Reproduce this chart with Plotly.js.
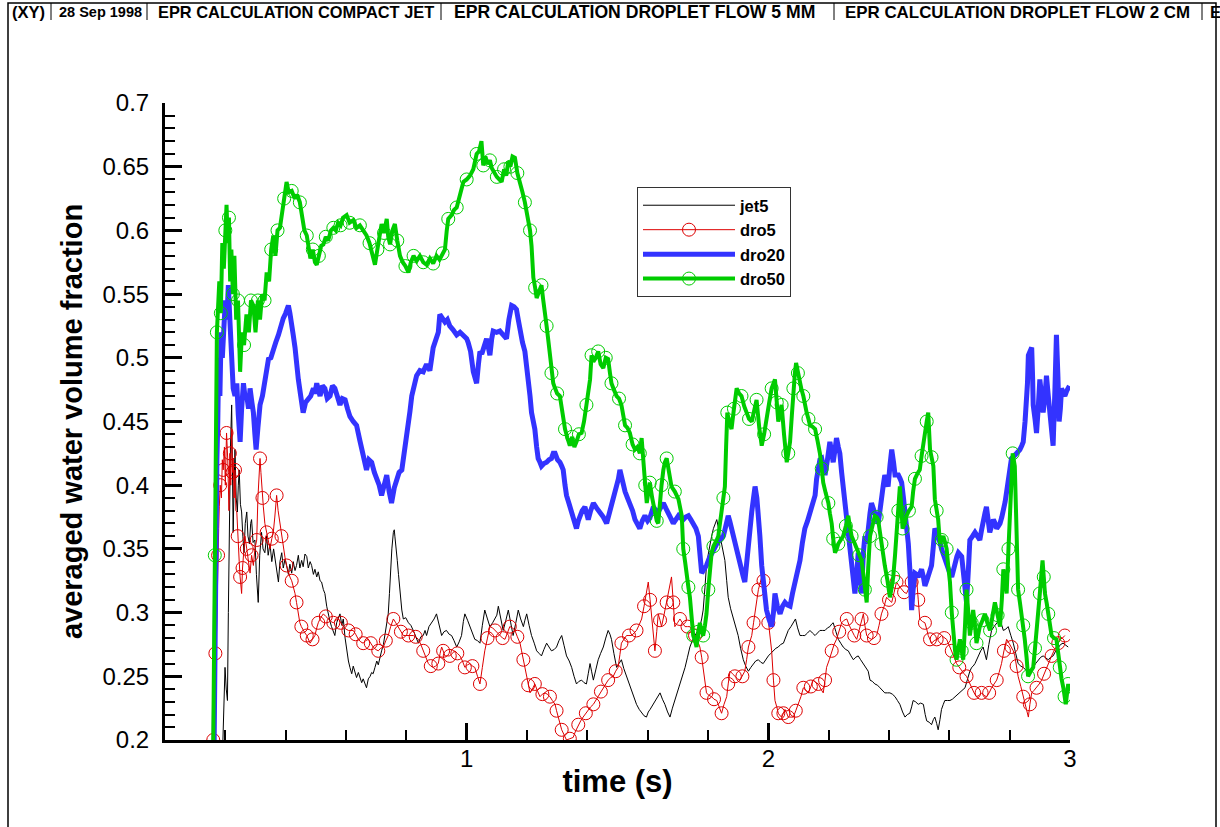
<!DOCTYPE html>
<html>
<head>
<meta charset="utf-8">
<script src="https://cdn.plot.ly/plotly-3.0.1.min.js"></script>
<style>
  html, body { margin: 0; padding: 0; background: #fff; }
  #chart { width: 1220px; height: 827px; }
</style>
</head>
<body>
<div id="chart"></div>
<script>
// ---- averaged water volume fraction vs time, four EPR calculations ----

const jet5_t = [0.192,0.196,0.199,0.203,0.207,0.210,0.213,0.217,0.221,0.224,0.226,0.229,0.232,0.236,0.240,0.243,0.246,0.250,0.254,0.258,0.262,0.266,0.271,0.275,0.280,0.284,0.287,0.292,0.298,0.303,0.309,0.314,0.320,0.325,0.331,0.337,0.342,0.348,0.354,0.360,0.365,0.370,0.376,0.381,0.387,0.392,0.398,0.403,0.409,0.414,0.420,0.425,0.431,0.436,0.442,0.447,0.453,0.458,0.464,0.470,0.475,0.481,0.486,0.492,0.497,0.503,0.508,0.514,0.519,0.525,0.530,0.536,0.541,0.547,0.552,0.558,0.563,0.569,0.575,0.580,0.586,0.591,0.597,0.602,0.608,0.613,0.619,0.624,0.630,0.635,0.641,0.646,0.652,0.657,0.663,0.668,0.674,0.680,0.685,0.690,0.696,0.702,0.707,0.713,0.718,0.724,0.729,0.735,0.740,0.744,0.748,0.752,0.757,0.760,0.762,0.766,0.770,0.774,0.779,0.785,0.790,0.798,0.807,0.815,0.823,0.832,0.840,0.848,0.856,0.862,0.867,0.875,0.884,0.892,0.900,0.908,0.917,0.925,0.933,0.942,0.950,0.958,0.967,0.975,0.983,0.989,0.994,1.003,1.011,1.019,1.027,1.036,1.044,1.052,1.060,1.069,1.077,1.086,1.094,1.100,1.105,1.113,1.121,1.130,1.138,1.146,1.154,1.163,1.171,1.179,1.188,1.193,1.199,1.207,1.215,1.224,1.232,1.240,1.248,1.256,1.265,1.273,1.281,1.290,1.298,1.306,1.315,1.323,1.331,1.340,1.348,1.356,1.364,1.372,1.381,1.389,1.397,1.403,1.409,1.414,1.420,1.428,1.436,1.444,1.453,1.461,1.469,1.475,1.480,1.488,1.497,1.505,1.513,1.521,1.530,1.538,1.547,1.555,1.563,1.572,1.580,1.588,1.596,1.602,1.608,1.616,1.624,1.632,1.641,1.649,1.657,1.666,1.674,1.682,1.690,1.699,1.707,1.715,1.724,1.732,1.740,1.748,1.757,1.765,1.773,1.779,1.784,1.790,1.795,1.801,1.806,1.812,1.818,1.823,1.829,1.835,1.840,1.848,1.856,1.862,1.867,1.875,1.884,1.892,1.900,1.908,1.917,1.925,1.934,1.942,1.950,1.958,1.967,1.975,1.983,1.991,2.000,2.008,2.016,2.025,2.033,2.041,2.050,2.058,2.066,2.075,2.083,2.090,2.097,2.105,2.113,2.121,2.130,2.138,2.146,2.155,2.163,2.171,2.180,2.188,2.196,2.204,2.210,2.215,2.224,2.232,2.240,2.248,2.257,2.265,2.274,2.282,2.290,2.298,2.306,2.315,2.323,2.331,2.337,2.345,2.353,2.362,2.370,2.378,2.386,2.395,2.403,2.411,2.420,2.428,2.436,2.445,2.453,2.461,2.469,2.475,2.480,2.488,2.497,2.505,2.514,2.520,2.525,2.533,2.541,2.547,2.552,2.558,2.563,2.569,2.574,2.580,2.585,2.594,2.602,2.610,2.619,2.627,2.635,2.644,2.652,2.657,2.663,2.668,2.674,2.679,2.685,2.690,2.696,2.704,2.712,2.718,2.723,2.731,2.740,2.748,2.757,2.762,2.768,2.774,2.779,2.787,2.795,2.804,2.812,2.820,2.828,2.837,2.845,2.853,2.862,2.870,2.878,2.886,2.895,2.903,2.911,2.920,2.928,2.936,2.944,2.953,2.961,2.969,2.977,2.986,2.994];
const jet5_v = [0.200,0.235,0.257,0.240,0.231,0.300,0.379,0.430,0.463,0.400,0.363,0.400,0.428,0.390,0.379,0.400,0.412,0.385,0.379,0.360,0.347,0.370,0.379,0.360,0.354,0.370,0.373,0.355,0.357,0.330,0.308,0.345,0.363,0.350,0.347,0.360,0.345,0.354,0.340,0.350,0.341,0.335,0.324,0.340,0.347,0.335,0.342,0.337,0.330,0.338,0.331,0.340,0.333,0.337,0.345,0.335,0.341,0.336,0.346,0.344,0.335,0.340,0.337,0.330,0.334,0.328,0.332,0.325,0.324,0.318,0.315,0.305,0.299,0.293,0.289,0.285,0.282,0.292,0.296,0.299,0.290,0.295,0.280,0.270,0.262,0.257,0.252,0.258,0.254,0.249,0.253,0.250,0.245,0.248,0.244,0.241,0.248,0.250,0.253,0.252,0.257,0.262,0.259,0.266,0.270,0.275,0.282,0.290,0.299,0.315,0.334,0.350,0.363,0.365,0.360,0.352,0.341,0.330,0.315,0.302,0.295,0.296,0.292,0.290,0.286,0.280,0.276,0.281,0.282,0.286,0.282,0.289,0.292,0.295,0.299,0.290,0.282,0.285,0.286,0.283,0.282,0.278,0.273,0.277,0.282,0.293,0.299,0.294,0.289,0.284,0.279,0.278,0.276,0.290,0.302,0.295,0.289,0.292,0.295,0.298,0.305,0.295,0.286,0.294,0.302,0.292,0.282,0.292,0.302,0.295,0.289,0.294,0.299,0.290,0.282,0.276,0.270,0.268,0.266,0.271,0.276,0.273,0.270,0.271,0.273,0.278,0.282,0.274,0.266,0.262,0.257,0.250,0.244,0.246,0.247,0.245,0.244,0.252,0.260,0.254,0.247,0.255,0.263,0.268,0.273,0.280,0.286,0.283,0.279,0.268,0.257,0.260,0.263,0.256,0.250,0.244,0.238,0.232,0.228,0.224,0.221,0.219,0.218,0.222,0.224,0.227,0.231,0.234,0.237,0.232,0.228,0.222,0.218,0.225,0.231,0.238,0.244,0.250,0.257,0.265,0.273,0.278,0.282,0.285,0.289,0.295,0.302,0.320,0.337,0.346,0.354,0.360,0.366,0.370,0.373,0.366,0.360,0.350,0.341,0.325,0.312,0.303,0.295,0.288,0.282,0.272,0.263,0.258,0.254,0.257,0.260,0.262,0.263,0.261,0.260,0.263,0.266,0.268,0.270,0.272,0.273,0.275,0.276,0.281,0.286,0.289,0.292,0.295,0.288,0.282,0.282,0.282,0.284,0.286,0.284,0.282,0.284,0.286,0.286,0.286,0.288,0.289,0.291,0.292,0.285,0.279,0.276,0.273,0.271,0.270,0.266,0.263,0.265,0.266,0.263,0.260,0.257,0.254,0.247,0.246,0.244,0.243,0.241,0.239,0.237,0.237,0.237,0.236,0.234,0.231,0.228,0.222,0.218,0.220,0.221,0.226,0.231,0.230,0.228,0.229,0.228,0.220,0.215,0.214,0.212,0.216,0.218,0.213,0.208,0.216,0.224,0.228,0.231,0.231,0.231,0.232,0.234,0.236,0.237,0.239,0.241,0.245,0.250,0.254,0.257,0.258,0.260,0.263,0.266,0.270,0.273,0.268,0.263,0.275,0.286,0.289,0.292,0.294,0.295,0.290,0.286,0.287,0.289,0.282,0.276,0.268,0.260,0.258,0.257,0.255,0.254,0.255,0.257,0.260,0.263,0.265,0.266,0.264,0.263,0.265,0.266,0.270,0.273,0.275,0.276,0.274,0.273];

const dro5_t = [0.160,0.163,0.165,0.167,0.170,0.173,0.176,0.178,0.180,0.183,0.187,0.190,0.193,0.197,0.200,0.204,0.208,0.212,0.215,0.218,0.221,0.224,0.226,0.229,0.232,0.235,0.238,0.241,0.243,0.246,0.249,0.252,0.254,0.257,0.260,0.265,0.271,0.276,0.282,0.287,0.293,0.298,0.304,0.308,0.312,0.315,0.318,0.320,0.323,0.326,0.331,0.337,0.343,0.348,0.354,0.359,0.364,0.370,0.375,0.381,0.386,0.392,0.398,0.403,0.409,0.414,0.420,0.425,0.431,0.436,0.441,0.447,0.452,0.458,0.464,0.470,0.475,0.481,0.489,0.497,0.503,0.508,0.516,0.525,0.533,0.541,0.550,0.558,0.566,0.575,0.583,0.591,0.600,0.608,0.616,0.624,0.632,0.641,0.649,0.657,0.665,0.674,0.682,0.690,0.699,0.707,0.715,0.724,0.732,0.740,0.748,0.757,0.765,0.773,0.782,0.790,0.798,0.807,0.815,0.823,0.831,0.840,0.848,0.856,0.864,0.873,0.881,0.889,0.897,0.906,0.912,0.917,0.922,0.928,0.936,0.944,0.952,0.961,0.969,0.978,0.986,0.994,1.003,1.011,1.019,1.027,1.036,1.044,1.052,1.060,1.069,1.077,1.086,1.094,1.102,1.110,1.119,1.127,1.135,1.143,1.152,1.160,1.168,1.177,1.182,1.188,1.193,1.199,1.204,1.210,1.218,1.226,1.234,1.243,1.251,1.259,1.267,1.276,1.284,1.293,1.298,1.304,1.310,1.315,1.323,1.331,1.342,1.353,1.361,1.370,1.378,1.386,1.395,1.403,1.411,1.420,1.428,1.436,1.445,1.453,1.461,1.469,1.478,1.486,1.494,1.502,1.508,1.513,1.521,1.530,1.538,1.547,1.555,1.563,1.571,1.580,1.588,1.596,1.602,1.608,1.613,1.619,1.624,1.630,1.635,1.641,1.646,1.654,1.663,1.671,1.679,1.685,1.690,1.699,1.707,1.715,1.724,1.732,1.740,1.748,1.757,1.765,1.773,1.779,1.784,1.790,1.795,1.803,1.812,1.820,1.829,1.837,1.845,1.853,1.862,1.867,1.873,1.881,1.889,1.898,1.906,1.914,1.922,1.928,1.934,1.940,1.945,1.951,1.956,1.962,1.967,1.972,1.978,1.984,1.989,1.994,2.000,2.006,2.011,2.017,2.022,2.028,2.033,2.039,2.044,2.050,2.055,2.061,2.066,2.075,2.083,2.091,2.099,2.108,2.116,2.124,2.133,2.141,2.149,2.158,2.166,2.174,2.182,2.188,2.193,2.202,2.210,2.218,2.226,2.235,2.243,2.251,2.260,2.268,2.276,2.285,2.293,2.301,2.309,2.315,2.320,2.326,2.334,2.342,2.350,2.359,2.367,2.375,2.384,2.392,2.400,2.409,2.417,2.425,2.433,2.442,2.450,2.458,2.466,2.475,2.483,2.491,2.497,2.502,2.511,2.519,2.525,2.530,2.536,2.541,2.550,2.558,2.566,2.574,2.583,2.591,2.600,2.608,2.616,2.624,2.633,2.641,2.649,2.657,2.666,2.674,2.682,2.690,2.699,2.707,2.715,2.723,2.732,2.740,2.748,2.757,2.765,2.773,2.781,2.790,2.798,2.806,2.812,2.817,2.823,2.828,2.837,2.845,2.853,2.862,2.867,2.873,2.881,2.889,2.898,2.906,2.914,2.922,2.930,2.939,2.947,2.955,2.961,2.966,2.975,2.983];
const dro5_v = [0.200,0.231,0.250,0.268,0.275,0.320,0.345,0.366,0.383,0.400,0.390,0.420,0.412,0.430,0.400,0.441,0.420,0.380,0.425,0.400,0.444,0.410,0.421,0.390,0.412,0.380,0.379,0.360,0.354,0.340,0.328,0.320,0.315,0.335,0.344,0.360,0.350,0.340,0.331,0.345,0.337,0.350,0.357,0.390,0.410,0.421,0.410,0.402,0.390,0.383,0.370,0.363,0.355,0.350,0.358,0.363,0.375,0.392,0.380,0.370,0.360,0.350,0.343,0.337,0.332,0.328,0.325,0.321,0.315,0.308,0.300,0.292,0.289,0.286,0.284,0.282,0.279,0.276,0.279,0.282,0.288,0.292,0.296,0.299,0.297,0.295,0.293,0.292,0.294,0.295,0.292,0.289,0.287,0.286,0.286,0.286,0.283,0.279,0.277,0.276,0.278,0.279,0.276,0.273,0.271,0.270,0.272,0.273,0.278,0.282,0.289,0.295,0.292,0.289,0.285,0.282,0.282,0.282,0.282,0.282,0.281,0.279,0.275,0.270,0.264,0.260,0.258,0.257,0.258,0.260,0.268,0.273,0.270,0.266,0.266,0.266,0.268,0.270,0.268,0.266,0.262,0.257,0.259,0.260,0.258,0.257,0.250,0.244,0.257,0.270,0.280,0.289,0.288,0.286,0.284,0.282,0.280,0.279,0.284,0.289,0.288,0.286,0.281,0.276,0.270,0.263,0.256,0.250,0.243,0.237,0.240,0.244,0.239,0.234,0.236,0.237,0.236,0.234,0.231,0.228,0.223,0.218,0.213,0.208,0.204,0.200,0.201,0.202,0.207,0.212,0.215,0.218,0.221,0.224,0.226,0.228,0.231,0.234,0.238,0.241,0.244,0.247,0.249,0.250,0.254,0.257,0.267,0.276,0.279,0.282,0.282,0.282,0.284,0.286,0.290,0.295,0.305,0.315,0.324,0.310,0.299,0.285,0.270,0.285,0.299,0.294,0.289,0.298,0.308,0.318,0.328,0.308,0.289,0.292,0.295,0.292,0.289,0.289,0.289,0.285,0.282,0.278,0.273,0.265,0.257,0.247,0.237,0.235,0.234,0.232,0.231,0.226,0.221,0.228,0.234,0.244,0.254,0.252,0.250,0.248,0.247,0.250,0.254,0.263,0.273,0.278,0.282,0.292,0.302,0.310,0.318,0.323,0.328,0.325,0.321,0.306,0.292,0.280,0.270,0.247,0.231,0.226,0.221,0.219,0.218,0.221,0.224,0.221,0.218,0.218,0.218,0.223,0.228,0.234,0.241,0.239,0.237,0.242,0.247,0.245,0.244,0.240,0.237,0.247,0.257,0.263,0.270,0.275,0.279,0.285,0.292,0.294,0.295,0.290,0.286,0.282,0.279,0.287,0.295,0.299,0.290,0.282,0.280,0.279,0.280,0.282,0.290,0.299,0.305,0.312,0.310,0.308,0.316,0.324,0.321,0.318,0.316,0.315,0.320,0.324,0.326,0.328,0.310,0.295,0.293,0.292,0.287,0.282,0.279,0.276,0.278,0.279,0.280,0.282,0.280,0.279,0.274,0.270,0.265,0.260,0.257,0.254,0.252,0.250,0.245,0.241,0.237,0.234,0.235,0.237,0.235,0.234,0.237,0.241,0.244,0.247,0.253,0.260,0.270,0.279,0.276,0.273,0.270,0.266,0.258,0.250,0.242,0.234,0.226,0.218,0.228,0.237,0.239,0.241,0.244,0.247,0.252,0.257,0.262,0.266,0.270,0.273,0.276,0.279,0.280,0.282];

const dro20_t = [0.163,0.166,0.169,0.172,0.175,0.178,0.182,0.186,0.190,0.195,0.200,0.205,0.210,0.215,0.221,0.226,0.232,0.238,0.243,0.249,0.254,0.260,0.266,0.271,0.277,0.282,0.288,0.293,0.298,0.302,0.308,0.315,0.323,0.331,0.337,0.343,0.351,0.359,0.367,0.376,0.384,0.392,0.400,0.409,0.414,0.420,0.425,0.431,0.436,0.442,0.450,0.458,0.466,0.475,0.483,0.492,0.497,0.503,0.509,0.514,0.522,0.530,0.538,0.547,0.555,0.563,0.571,0.580,0.588,0.597,0.605,0.613,0.624,0.635,0.646,0.657,0.663,0.668,0.676,0.685,0.694,0.702,0.710,0.718,0.726,0.735,0.743,0.751,0.760,0.768,0.776,0.785,0.790,0.796,0.801,0.807,0.812,0.818,0.826,0.834,0.845,0.856,0.867,0.878,0.889,0.900,0.906,0.911,0.920,0.928,0.936,0.944,0.955,0.967,0.978,0.989,1.000,1.005,1.013,1.022,1.028,1.033,1.039,1.044,1.050,1.055,1.060,1.066,1.072,1.077,1.083,1.088,1.099,1.110,1.121,1.132,1.140,1.149,1.157,1.165,1.171,1.177,1.185,1.193,1.199,1.204,1.210,1.215,1.221,1.226,1.232,1.237,1.243,1.248,1.256,1.265,1.273,1.281,1.287,1.293,1.301,1.309,1.315,1.320,1.326,1.331,1.340,1.348,1.356,1.364,1.370,1.375,1.383,1.392,1.398,1.403,1.411,1.420,1.431,1.442,1.453,1.464,1.472,1.480,1.488,1.497,1.503,1.508,1.516,1.525,1.533,1.541,1.550,1.558,1.566,1.574,1.582,1.591,1.600,1.607,1.619,1.627,1.635,1.644,1.652,1.660,1.668,1.677,1.685,1.693,1.702,1.710,1.718,1.726,1.735,1.743,1.751,1.760,1.768,1.774,1.779,1.787,1.795,1.803,1.812,1.820,1.829,1.840,1.851,1.859,1.867,1.872,1.878,1.886,1.895,1.903,1.911,1.917,1.922,1.928,1.934,1.940,1.945,1.951,1.956,1.962,1.967,1.972,1.978,1.986,1.994,2.002,2.011,2.017,2.022,2.030,2.039,2.047,2.055,2.063,2.072,2.080,2.088,2.097,2.105,2.113,2.121,2.130,2.138,2.146,2.155,2.160,2.166,2.171,2.177,2.182,2.188,2.196,2.204,2.210,2.215,2.221,2.226,2.232,2.237,2.243,2.248,2.254,2.260,2.265,2.270,2.278,2.287,2.293,2.298,2.304,2.309,2.315,2.320,2.326,2.331,2.337,2.342,2.348,2.353,2.359,2.364,2.370,2.375,2.381,2.386,2.392,2.397,2.403,2.409,2.415,2.420,2.426,2.431,2.437,2.442,2.448,2.453,2.459,2.464,2.470,2.475,2.480,2.486,2.492,2.497,2.503,2.508,2.514,2.519,2.525,2.530,2.536,2.541,2.547,2.552,2.558,2.563,2.569,2.574,2.583,2.591,2.600,2.608,2.614,2.619,2.625,2.630,2.636,2.641,2.649,2.657,2.663,2.668,2.677,2.685,2.693,2.701,2.707,2.712,2.718,2.723,2.729,2.734,2.740,2.746,2.752,2.757,2.763,2.768,2.774,2.779,2.785,2.790,2.798,2.806,2.815,2.823,2.829,2.834,2.840,2.845,2.851,2.856,2.859,2.862,2.868,2.873,2.876,2.878,2.884,2.889,2.895,2.900,2.906,2.911,2.917,2.922,2.928,2.933,2.939,2.944,2.950,2.955,2.960,2.964,2.968,2.972,2.978,2.983,2.989,2.994,2.998];
const dro20_v = [0.200,0.300,0.360,0.420,0.450,0.500,0.470,0.520,0.500,0.530,0.545,0.530,0.557,0.530,0.508,0.476,0.470,0.480,0.455,0.434,0.460,0.480,0.468,0.470,0.460,0.476,0.465,0.457,0.440,0.428,0.445,0.463,0.470,0.483,0.490,0.499,0.500,0.508,0.512,0.518,0.525,0.531,0.535,0.541,0.535,0.528,0.518,0.508,0.495,0.483,0.470,0.457,0.465,0.467,0.470,0.476,0.472,0.480,0.472,0.470,0.478,0.476,0.468,0.470,0.478,0.476,0.470,0.463,0.468,0.467,0.460,0.454,0.450,0.447,0.435,0.425,0.418,0.412,0.420,0.418,0.410,0.405,0.400,0.392,0.400,0.408,0.395,0.386,0.398,0.405,0.410,0.412,0.420,0.428,0.435,0.444,0.458,0.470,0.478,0.486,0.490,0.489,0.495,0.490,0.508,0.515,0.520,0.534,0.530,0.528,0.530,0.525,0.522,0.518,0.520,0.518,0.515,0.512,0.505,0.489,0.485,0.480,0.495,0.505,0.503,0.508,0.510,0.515,0.508,0.502,0.515,0.521,0.520,0.521,0.518,0.515,0.530,0.541,0.540,0.538,0.530,0.521,0.512,0.505,0.495,0.483,0.470,0.457,0.450,0.444,0.430,0.421,0.418,0.415,0.417,0.418,0.420,0.421,0.425,0.425,0.420,0.418,0.415,0.412,0.400,0.392,0.385,0.379,0.372,0.366,0.372,0.376,0.380,0.383,0.378,0.373,0.380,0.386,0.382,0.379,0.375,0.370,0.377,0.383,0.390,0.399,0.405,0.412,0.402,0.395,0.390,0.386,0.380,0.373,0.370,0.366,0.372,0.376,0.372,0.374,0.383,0.380,0.379,0.382,0.386,0.382,0.379,0.374,0.370,0.373,0.376,0.374,0.373,0.375,0.376,0.373,0.370,0.366,0.360,0.345,0.331,0.334,0.337,0.342,0.347,0.350,0.354,0.357,0.360,0.368,0.376,0.372,0.366,0.355,0.347,0.338,0.331,0.328,0.324,0.340,0.354,0.367,0.379,0.390,0.399,0.390,0.379,0.360,0.337,0.318,0.302,0.295,0.289,0.300,0.315,0.305,0.299,0.305,0.308,0.306,0.305,0.315,0.324,0.332,0.341,0.355,0.366,0.372,0.379,0.386,0.392,0.405,0.418,0.420,0.421,0.414,0.408,0.420,0.434,0.426,0.418,0.428,0.437,0.430,0.425,0.410,0.399,0.388,0.376,0.362,0.350,0.330,0.315,0.330,0.347,0.330,0.315,0.347,0.360,0.354,0.370,0.378,0.386,0.382,0.379,0.375,0.370,0.380,0.392,0.400,0.408,0.404,0.399,0.415,0.428,0.418,0.408,0.408,0.408,0.405,0.402,0.390,0.379,0.367,0.354,0.330,0.302,0.318,0.331,0.330,0.328,0.331,0.334,0.328,0.321,0.325,0.328,0.332,0.337,0.352,0.366,0.363,0.360,0.355,0.350,0.343,0.337,0.332,0.328,0.335,0.341,0.344,0.347,0.346,0.344,0.326,0.308,0.333,0.357,0.360,0.363,0.360,0.357,0.365,0.373,0.378,0.383,0.373,0.363,0.368,0.373,0.370,0.366,0.368,0.370,0.375,0.379,0.387,0.395,0.408,0.421,0.423,0.425,0.427,0.428,0.431,0.434,0.450,0.463,0.480,0.502,0.505,0.508,0.485,0.463,0.452,0.441,0.462,0.483,0.470,0.457,0.470,0.486,0.470,0.457,0.444,0.431,0.475,0.518,0.485,0.450,0.460,0.476,0.472,0.470,0.474,0.476,0.478];

const dro50_t = [0.160,0.163,0.165,0.167,0.169,0.172,0.176,0.180,0.185,0.190,0.195,0.200,0.204,0.208,0.212,0.216,0.220,0.225,0.230,0.236,0.242,0.249,0.255,0.262,0.270,0.278,0.285,0.293,0.300,0.308,0.315,0.322,0.330,0.337,0.345,0.352,0.359,0.366,0.373,0.381,0.388,0.395,0.403,0.410,0.420,0.430,0.438,0.447,0.455,0.462,0.470,0.476,0.482,0.490,0.497,0.503,0.510,0.518,0.525,0.533,0.541,0.550,0.558,0.566,0.574,0.582,0.590,0.602,0.612,0.624,0.635,0.646,0.657,0.668,0.678,0.688,0.696,0.704,0.712,0.718,0.726,0.735,0.740,0.746,0.754,0.762,0.770,0.779,0.788,0.797,0.807,0.815,0.824,0.834,0.845,0.856,0.867,0.878,0.889,0.900,0.910,0.920,0.928,0.934,0.939,0.950,0.958,0.967,0.978,0.989,1.000,1.011,1.022,1.033,1.041,1.049,1.055,1.062,1.070,1.077,1.083,1.092,1.100,1.108,1.116,1.124,1.131,1.138,1.145,1.152,1.160,1.168,1.177,1.185,1.193,1.200,1.205,1.210,1.215,1.221,1.227,1.232,1.240,1.248,1.254,1.259,1.265,1.270,1.276,1.281,1.287,1.293,1.300,1.309,1.317,1.326,1.334,1.342,1.350,1.357,1.364,1.372,1.381,1.389,1.397,1.403,1.409,1.414,1.420,1.428,1.436,1.444,1.453,1.461,1.469,1.475,1.480,1.488,1.497,1.505,1.513,1.519,1.525,1.533,1.541,1.550,1.558,1.566,1.574,1.580,1.587,1.592,1.597,1.602,1.607,1.615,1.624,1.630,1.635,1.641,1.646,1.652,1.657,1.663,1.670,1.679,1.690,1.702,1.713,1.718,1.724,1.729,1.735,1.740,1.746,1.751,1.757,1.762,1.768,1.773,1.779,1.784,1.790,1.795,1.801,1.806,1.812,1.818,1.823,1.829,1.834,1.840,1.845,1.851,1.856,1.860,1.864,1.870,1.878,1.886,1.895,1.903,1.911,1.920,1.928,1.936,1.945,1.953,1.961,1.970,1.978,1.986,1.994,2.003,2.011,2.017,2.022,2.028,2.033,2.039,2.044,2.052,2.061,2.066,2.072,2.078,2.083,2.088,2.092,2.098,2.103,2.110,2.116,2.121,2.127,2.133,2.138,2.146,2.155,2.163,2.171,2.177,2.182,2.190,2.199,2.204,2.210,2.215,2.221,2.227,2.232,2.240,2.248,2.257,2.265,2.270,2.276,2.285,2.293,2.301,2.309,2.315,2.320,2.326,2.331,2.337,2.345,2.353,2.359,2.364,2.370,2.375,2.381,2.386,2.395,2.403,2.409,2.414,2.420,2.425,2.431,2.436,2.441,2.445,2.452,2.458,2.466,2.475,2.480,2.486,2.494,2.502,2.508,2.514,2.520,2.525,2.530,2.536,2.541,2.547,2.552,2.558,2.563,2.569,2.575,2.580,2.586,2.591,2.597,2.602,2.608,2.613,2.619,2.624,2.630,2.635,2.641,2.646,2.652,2.657,2.663,2.668,2.674,2.679,2.685,2.690,2.696,2.701,2.710,2.718,2.726,2.735,2.743,2.751,2.760,2.768,2.774,2.779,2.785,2.790,2.796,2.801,2.806,2.810,2.817,2.823,2.828,2.834,2.840,2.845,2.850,2.856,2.861,2.870,2.878,2.884,2.889,2.895,2.900,2.905,2.909,2.913,2.917,2.923,2.928,2.934,2.939,2.947,2.955,2.961,2.966,2.972,2.978,2.982,2.986,2.990,2.994,2.998];
const dro50_v = [0.200,0.287,0.345,0.430,0.490,0.520,0.540,0.560,0.535,0.590,0.570,0.600,0.620,0.590,0.610,0.560,0.585,0.550,0.580,0.530,0.545,0.489,0.520,0.510,0.534,0.520,0.545,0.541,0.520,0.545,0.530,0.550,0.545,0.567,0.560,0.585,0.596,0.580,0.600,0.602,0.615,0.625,0.638,0.630,0.631,0.625,0.628,0.622,0.610,0.600,0.596,0.585,0.578,0.585,0.575,0.573,0.580,0.588,0.589,0.595,0.592,0.600,0.602,0.600,0.606,0.604,0.610,0.612,0.606,0.608,0.602,0.604,0.600,0.596,0.590,0.582,0.573,0.585,0.600,0.605,0.598,0.609,0.595,0.589,0.600,0.605,0.592,0.580,0.575,0.572,0.567,0.575,0.580,0.576,0.580,0.575,0.573,0.578,0.574,0.580,0.577,0.582,0.585,0.600,0.609,0.612,0.616,0.618,0.628,0.638,0.640,0.643,0.648,0.660,0.662,0.670,0.651,0.658,0.652,0.655,0.649,0.645,0.642,0.640,0.638,0.648,0.643,0.654,0.650,0.658,0.657,0.645,0.638,0.630,0.622,0.612,0.605,0.600,0.588,0.563,0.555,0.547,0.552,0.557,0.545,0.538,0.525,0.515,0.500,0.488,0.480,0.476,0.472,0.470,0.455,0.444,0.437,0.431,0.438,0.430,0.434,0.440,0.441,0.450,0.463,0.475,0.483,0.502,0.497,0.500,0.505,0.495,0.492,0.500,0.499,0.488,0.480,0.475,0.470,0.468,0.463,0.455,0.447,0.445,0.441,0.432,0.428,0.430,0.425,0.437,0.420,0.400,0.386,0.395,0.402,0.390,0.379,0.372,0.370,0.390,0.400,0.412,0.418,0.421,0.410,0.399,0.395,0.389,0.376,0.350,0.340,0.328,0.320,0.312,0.295,0.282,0.278,0.273,0.285,0.292,0.285,0.282,0.290,0.299,0.318,0.335,0.347,0.352,0.354,0.357,0.360,0.372,0.383,0.390,0.399,0.430,0.457,0.450,0.444,0.460,0.476,0.472,0.470,0.462,0.457,0.452,0.450,0.460,0.467,0.445,0.431,0.440,0.450,0.465,0.476,0.480,0.483,0.465,0.450,0.457,0.463,0.440,0.418,0.425,0.434,0.455,0.476,0.488,0.496,0.488,0.480,0.475,0.470,0.463,0.457,0.452,0.447,0.446,0.444,0.435,0.425,0.413,0.402,0.394,0.386,0.378,0.370,0.358,0.347,0.350,0.354,0.357,0.360,0.368,0.376,0.368,0.360,0.355,0.350,0.345,0.341,0.330,0.318,0.308,0.335,0.360,0.368,0.376,0.375,0.373,0.363,0.354,0.345,0.337,0.325,0.312,0.320,0.328,0.345,0.363,0.380,0.399,0.382,0.366,0.370,0.376,0.380,0.383,0.395,0.405,0.409,0.412,0.423,0.434,0.443,0.450,0.457,0.428,0.422,0.415,0.389,0.380,0.373,0.354,0.357,0.360,0.355,0.350,0.335,0.324,0.300,0.282,0.270,0.263,0.272,0.279,0.270,0.263,0.290,0.318,0.300,0.282,0.292,0.302,0.290,0.276,0.283,0.289,0.294,0.299,0.292,0.286,0.297,0.308,0.298,0.289,0.310,0.334,0.325,0.315,0.350,0.379,0.400,0.425,0.415,0.370,0.318,0.308,0.299,0.290,0.279,0.265,0.250,0.254,0.257,0.272,0.289,0.302,0.315,0.330,0.341,0.328,0.315,0.307,0.299,0.290,0.282,0.280,0.279,0.268,0.257,0.248,0.241,0.234,0.228,0.236,0.244,0.238];

const seriesNames = ['jet5', 'dro5', 'dro20', 'dro50'];
const xTickVals = [1, 2, 3];
const xTickText = ['1', '2', '3'];

const headerItems = [
  '(XY)',
  '28 Sep 1998',
  'EPR CALCULATION COMPACT JET',
  'EPR CALCULATION DROPLET FLOW 5 MM',
  'EPR CALCULATION DROPLET FLOW 2 CM',
  'E'
];

// ---- page geometry (pixels) ----
const W = 1220, H = 827;
const M = { l: 165, r: 150, t: 103, b: 87 };
const plotW = W - M.l - M.r, plotH = H - M.t - M.b;
const px = x => (x - M.l) / plotW;          // page x -> paper x
const py = y => (H - M.b - y) / plotH;      // page y -> paper y

const FONT = 'Arial, "Liberation Sans", Helvetica, sans-serif';

const traces = [
  { x: jet5_t, y: jet5_v, name: seriesNames[0], type: 'scatter', mode: 'lines',
    line: { color: '#000000', width: 1 } },
  { x: dro5_t, y: dro5_v, name: seriesNames[1], type: 'scatter', mode: 'lines+markers',
    line: { color: '#dd0000', width: 1 },
    marker: { symbol: 'circle-open', size: 13, color: '#dd0000', line: { width: 1, color: '#dd0000' }, maxdisplayed: 200 } },
  { x: dro20_t, y: dro20_v, name: seriesNames[2], type: 'scatter', mode: 'lines',
    line: { color: '#3333ff', width: 5 } },
  { x: dro50_t, y: dro50_v, name: seriesNames[3], type: 'scatter', mode: 'lines+markers',
    line: { color: '#00cc00', width: 4 },
    marker: { symbol: 'circle-open', size: 13, color: '#00cc00', line: { width: 1, color: '#00cc00' }, maxdisplayed: 200 } }
];

// header strip: item start positions, font sizes and separator positions (page pixels)
const headerX = [10, 57, 156, 452, 843, 1208];
const headerSize = [16.5, 14.5, 16.4, 17.6, 16.9, 16.5];
const sepX = [51, 147, 441, 834, 1202];

const annotations = headerItems.map((txt, i) => ({
  text: txt, xref: 'paper', yref: 'paper', x: px(headerX[i]), y: py(12),
  xanchor: 'left', yanchor: 'middle', showarrow: false,
  font: { family: FONT, size: headerSize[i], color: '#000', weight: 'bold' }
}));

const shapes = [
  // outer frame
  { type: 'rect', xref: 'paper', yref: 'paper', x0: px(8), x1: px(1216), y0: py(840), y1: py(3),
    line: { color: '#000', width: 1.5 }, fillcolor: 'rgba(0,0,0,0)', layer: 'above' }
].concat(sepX.map(s => ({
  type: 'line', xref: 'paper', yref: 'paper', x0: px(s), x1: px(s), y0: py(20), y1: py(3),
  line: { color: '#000', width: 1 }
})));

const layout = {
  width: W, height: H,
  margin: M,
  paper_bgcolor: '#fff', plot_bgcolor: '#fff',
  font: { family: FONT, color: '#000' },
  showlegend: true,
  legend: {
    x: px(637), y: py(187), xanchor: 'left', yanchor: 'top',
    bgcolor: '#fff', bordercolor: '#333', borderwidth: 1,
    font: { family: FONT, size: 16.5, color: '#000', weight: 'bold' },
    tracegroupgap: 0, itemwidth: 92
  },
  xaxis: {
    range: [0, 3], tickmode: 'array', tickvals: xTickVals, ticktext: xTickText,
    ticks: 'inside', ticklen: 17, tickwidth: 3, tickcolor: '#000',
    showline: true, linewidth: 3, linecolor: '#000', mirror: false,
    showgrid: false, zeroline: false, ticklabelstandoff: -5,
    tickfont: { family: FONT, size: 24, color: '#000' },
    minor: { tickmode: 'linear', tick0: 0, dtick: 0.2, ticks: 'inside', ticklen: 10, tickwidth: 2, tickcolor: '#000', showgrid: false },
    title: { text: 'time (s)', font: { family: FONT, size: 31, color: '#000', weight: 'bold' }, standoff: 0 },
    automargin: false
  },
  yaxis: {
    range: [0.2, 0.7], tickmode: 'linear', tick0: 0.2, dtick: 0.05,
    ticks: 'inside', ticklen: 17, tickwidth: 3, tickcolor: '#000',
    showline: true, linewidth: 3, linecolor: '#000', mirror: false,
    showgrid: false, zeroline: false, ticklabelstandoff: 8,
    tickfont: { family: FONT, size: 24, color: '#000' },
    minor: { tickmode: 'linear', tick0: 0.2, dtick: 0.01, ticks: 'inside', ticklen: 10, tickwidth: 2, tickcolor: '#000', showgrid: false },
    title: { text: 'averaged water volume fraction', font: { family: FONT, size: 29, color: '#000', weight: 'bold' }, standoff: 12 },
    automargin: false
  },
  annotations: annotations,
  shapes: shapes
};

Plotly.newPlot('chart', traces, layout, { displayModeBar: false, staticPlot: true });
</script>
</body>
</html>
